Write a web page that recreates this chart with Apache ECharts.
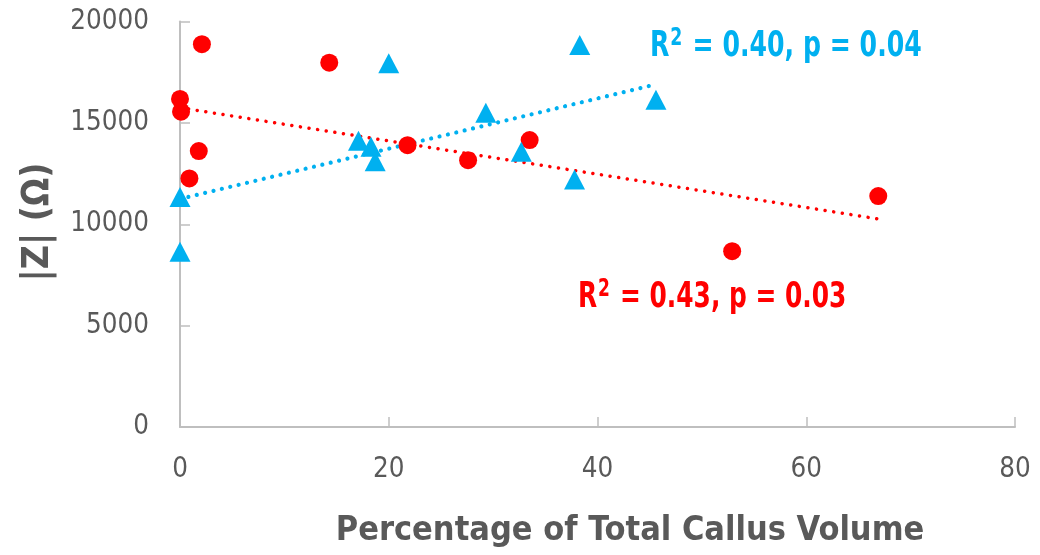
<!DOCTYPE html>
<html>
<head>
<meta charset="utf-8">
<script src="https://cdn.jsdelivr.net/npm/echarts@6/dist/echarts.min.js"></script>
<style>html,body{margin:0;padding:0;background:#fff}#c{width:1040px;height:555px}</style>
</head>
<body>
<div id="c"></div>
<script>
// Red circles: x = % of total callus volume, y = |Z| (Ohm)
const redX = [2.1, 14.3, 0.0, 0.1, 1.8, 0.9, 21.8, 27.6, 33.5, 52.9, 66.9];
const redY = [18880, 17970, 16180, 15550, 13610, 12260, 13900, 13160, 14150, 8670, 11390];
// Blue triangles
const blueX = [20.0, 0.0, 0.0, 17.1, 18.3, 18.7, 38.3, 29.3, 45.6, 32.7, 37.8];
const blueY = [17940, 11350, 8640, 14120, 13820, 13110, 18840, 15500, 16140, 13570, 12210];
// Trend-line endpoints
const redTrendX = [0, 66.9];
const redTrendY = [15750, 10260];
const blueTrendX = [0, 45.6];
const blueTrendY = [11250, 16900];
// Axis ticks
const xTicks = [0, 20, 40, 60, 80];
const yTicks = [0, 5000, 10000, 15000, 20000];

const RED = '#FF0000', BLUE = '#00B0F0', GREY = '#595959', AXIS = '#BFBFBF';
const NARROW = "'DejaVu Sans Condensed','Liberation Sans Narrow','Open Sans',sans-serif";
const zip = (a, b) => a.map((v, i) => [v, b[i]]);

const chart = echarts.init(document.getElementById('c'), null, {renderer: 'canvas'});
const axisCommon = {
  type: 'value',
  axisLine: {show: true, lineStyle: {color: AXIS, width: 2}},
  axisTick: {show: true, inside: true, length: 10, lineStyle: {color: AXIS, width: 1.5}},
  splitLine: {show: false},
  axisLabel: {color: GREY, fontFamily: NARROW, fontSize: 27.5, formatter: v => String(v)}
};
function eq(txt, color, x, y, sx) {
  return {type: 'text', x: x, y: y, scaleX: sx,
    style: {text: '{r|R}{s|2}{r| = ' + txt + '}', align: 'left', verticalAlign: 'middle',
      rich: {r: {fill: color, fontFamily: NARROW, fontWeight: 'bold', fontSize: 35, lineHeight: 40},
             s: {fill: color, fontFamily: NARROW, fontWeight: 'bold', fontSize: 24, lineHeight: 40, verticalAlign: 'top', padding: [0, 2, 0, 1]}}}};
}
chart.setOption({
  animation: false,
  backgroundColor: '#fff',
  grid: {left: 180, right: 25, top: 21.5, bottom: 128, containLabel: false},
  xAxis: Object.assign({}, axisCommon, {
    min: xTicks[0], max: xTicks[xTicks.length - 1], interval: 20,
    axisLabel: Object.assign({}, axisCommon.axisLabel, {margin: 29})
  }),
  yAxis: Object.assign({}, axisCommon, {
    min: yTicks[0], max: yTicks[yTicks.length - 1], interval: 5000,
    axisLabel: Object.assign({}, axisCommon.axisLabel, {margin: 31})
  }),
  series: [
    {type: 'line', data: zip(redTrendX, redTrendY), symbol: 'none', silent: true,
     lineStyle: {color: RED, width: 3.5, type: [0.01, 8.7], cap: 'round'}, z: 2},
    {type: 'line', data: zip(blueTrendX, blueTrendY), symbol: 'none', silent: true,
     lineStyle: {color: BLUE, width: 4.2, type: [0.01, 8.6], cap: 'round'}, z: 2},
    {type: 'scatter', data: zip(redX, redY), symbol: 'circle', symbolSize: 18,
     itemStyle: {color: RED, opacity: 1}, z: 3},
    {type: 'scatter', data: zip(blueX, blueY), symbol: 'triangle', symbolSize: [21, 20],
     itemStyle: {color: BLUE, opacity: 1}, z: 3}
  ],
  graphic: [
    {type: 'text', x: 38, y: 222, rotation: Math.PI / 2,
     style: {text: '|Z| (Ω)', fill: GREY, font: "bold 37px " + NARROW, align: 'center', verticalAlign: 'middle'}},
    {type: 'text', x: 630, y: 531,
     style: {text: 'Percentage of Total Callus Volume', fill: GREY, font: "bold 34px " + NARROW, align: 'center', verticalAlign: 'middle'}},
    eq('0.40, p = 0.04', BLUE, 650, 47, 0.8),
    eq('0.43, p = 0.03', RED, 578, 298, 0.79)
  ]
});
</script>
</body>
</html>
